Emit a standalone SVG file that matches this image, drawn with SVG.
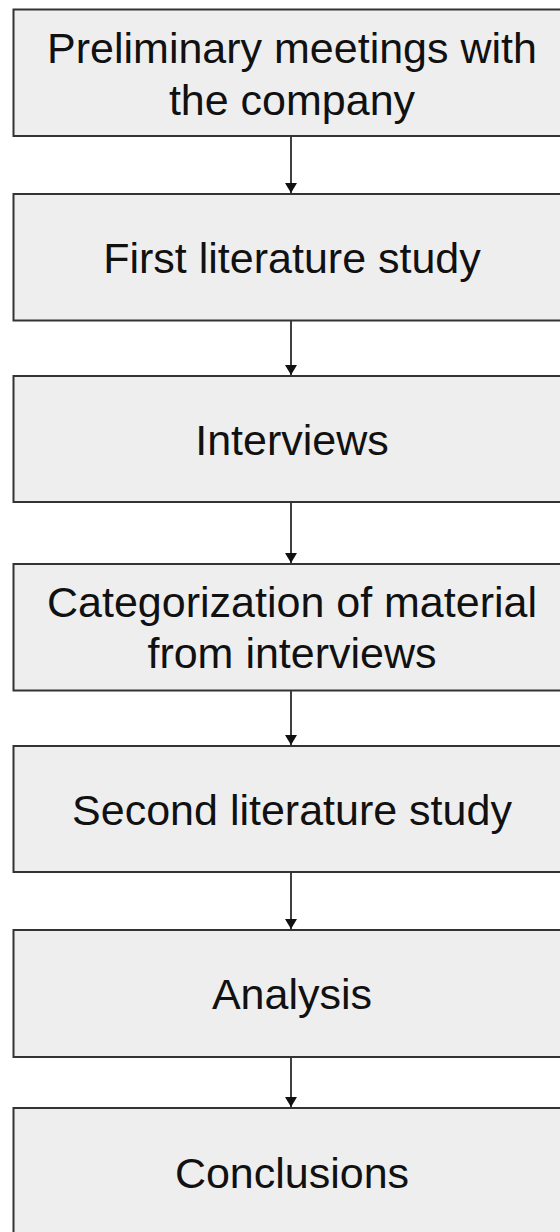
<svg xmlns="http://www.w3.org/2000/svg" width="560" height="1232" viewBox="0 0 560 1232">
  <style>
    .box { fill: #eeeeee; stroke: #333333; stroke-width: 2; }
    .label { font-family: "Liberation Sans", Arial, sans-serif; font-size: 43px; fill: #111111; text-anchor: middle; }
    .conn { stroke: #111111; stroke-width: 1.6; fill: none; marker-end: url(#arrow); }
  </style>
  <defs>
    <marker id="arrow" viewBox="0 0 10 12" refX="10" refY="6" markerWidth="10" markerHeight="12" markerUnits="userSpaceOnUse" orient="auto">
      <path d="M0,0 L10,6 L0,12 Z" fill="#111111"/>
    </marker>
  </defs>
  <rect width="560" height="1232" fill="#ffffff"/>

  <g id="connectors">
    <line class="conn" x1="291" y1="136" x2="291" y2="193"/>
    <line class="conn" x1="291" y1="321" x2="291" y2="375"/>
    <line class="conn" x1="291" y1="502" x2="291" y2="563"/>
    <line class="conn" x1="291" y1="691" x2="291" y2="745"/>
    <line class="conn" x1="291" y1="872" x2="291" y2="929"/>
    <line class="conn" x1="291" y1="1057" x2="291" y2="1107"/>
  </g>

  <g id="preliminary-meetings">
    <rect class="box" x="13.5" y="9.5" width="558" height="126.5"/>
    <text class="label" x="292" y="63">Preliminary meetings with</text>
    <text class="label" x="292" y="115">the company</text>
  </g>

  <g id="first-literature-study">
    <rect class="box" x="13.5" y="194" width="558" height="126.5"/>
    <text class="label" x="292" y="273">First literature study</text>
  </g>

  <g id="interviews">
    <rect class="box" x="13.5" y="376" width="558" height="126"/>
    <text class="label" x="292" y="455">Interviews</text>
  </g>

  <g id="categorization">
    <rect class="box" x="13.5" y="564" width="558" height="126.5"/>
    <text class="label" x="292" y="617">Categorization of material</text>
    <text class="label" x="292" y="668">from interviews</text>
  </g>

  <g id="second-literature-study">
    <rect class="box" x="13.5" y="746" width="558" height="126"/>
    <text class="label" x="292" y="825">Second literature study</text>
  </g>

  <g id="analysis">
    <rect class="box" x="13.5" y="930" width="558" height="127"/>
    <text class="label" x="292" y="1009">Analysis</text>
  </g>

  <g id="conclusions">
    <rect class="box" x="13.5" y="1108" width="558" height="130"/>
    <text class="label" x="292" y="1188">Conclusions</text>
  </g>
</svg>
